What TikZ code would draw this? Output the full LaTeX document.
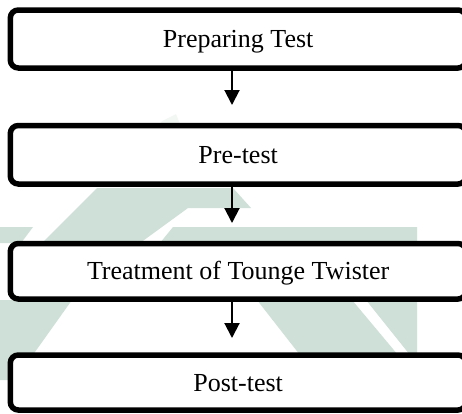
\documentclass[tikz,border=0pt]{standalone}
\usepackage{fontspec}
\setmainfont{Liberation Serif}
\usetikzlibrary{arrows.meta}
\definecolor{wmark}{RGB}{206,224,215}
\tikzset{
  stepbox/.style={draw=black, line width=5.5pt, rounded corners=8pt, fill=white,
    minimum width=455.7pt, inner sep=0pt, text height=17pt, text depth=0pt,
    font=\fontsize{26pt}{30pt}\selectfont},
  arr/.style={line width=2pt, -{Triangle[width=15pt,length=15pt]}},
  wm/.style={fill=wmark, draw=none}
}
\begin{document}
\begin{tikzpicture}[x=1pt,y=-1pt]
\useasboundingbox (0,0) rectangle (462,413);
\clip (0,0) rectangle (462,413);
\fill[white] (0,0) rectangle (462,413);
% watermark
\fill[wm] (97,188) -- (233,188) -- (251,208) -- (188,208) -- (140,243) -- (42,243) -- cycle;
\fill[wm] (173,227) -- (417,227) -- (417,243) -- (160,243) -- cycle;
\fill[wm] (0,227) -- (33,227) -- (21,243) -- (0,243) -- cycle;
\fill[wm] (0,300) -- (72,300) -- (15,380) -- (0,380) -- cycle;
\fill[wm] (257,300) -- (352,300) -- (398,355) -- (300,355) -- cycle;
\fill[wm] (366,300) -- (417,300) -- (417,355) -- (410,355) -- cycle;
\fill[wm, opacity=0.25] (162,121) -- (176,114) -- (180,124) -- (160,124) -- cycle;
% boxes
\node[stepbox, minimum height=58pt] (b1) at (238.15,39) {Preparing Test};
\node[stepbox, minimum height=58.5pt] (b2) at (238.15,154.75) {Pre-test};
\node[stepbox, minimum height=55.5pt] (b3) at (238.15,271.25) {Treatment of Tounge Twister};
\node[stepbox, minimum height=55pt] (b4) at (238.15,382.5) {Post-test};
% arrow tips
\coordinate (t1) at (232,105);
\coordinate (t2) at (232,223);
\coordinate (t3) at (232,338);
\draw[arr] (b1.south -| t1) -- (t1);
\draw[arr] (b2.south -| t2) -- (t2);
\draw[arr] (b3.south -| t3) -- (t3);
\end{tikzpicture}
\end{document}
